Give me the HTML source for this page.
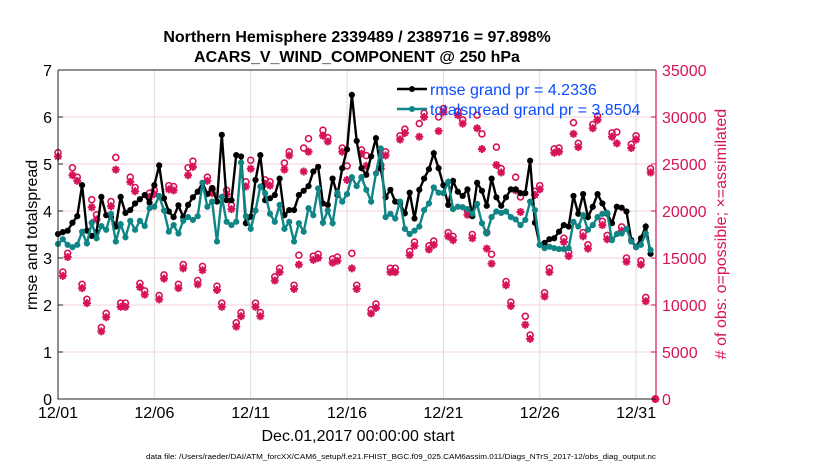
<!DOCTYPE html>
<html><head><meta charset="utf-8"><style>
html,body{margin:0;padding:0;background:#fff;}
svg{display:block;font-family:"Liberation Sans",sans-serif;}
</style></head><body>
<svg id="chart" width="830" height="470" viewBox="0 0 830 470">
<g id="grid"></g>
<g id="obs"></g>
<g id="lines"></g>
<g id="axes"></g>
<text x="357" y="42" text-anchor="middle" font-size="16" font-weight="bold">Northern Hemisphere 2339489 / 2389716 = 97.898%</text>
<text x="357" y="62" text-anchor="middle" font-size="16" font-weight="bold">ACARS_V_WIND_COMPONENT @ 250 hPa</text>
<text transform="translate(37,235) rotate(-90)" text-anchor="middle" font-size="16">rmse and totalspread</text>
<text transform="translate(726,234) rotate(-90)" text-anchor="middle" font-size="16" fill="#d6135a"># of obs: o=possible; ×=assimilated</text>
<text x="358" y="441" text-anchor="middle" font-size="16">Dec.01,2017 00:00:00 start</text>
<text x="401" y="459" text-anchor="middle" font-size="7" textLength="510" lengthAdjust="spacingAndGlyphs">data file: /Users/raeder/DAI/ATM_forcXX/CAM6_setup/f.e21.FHIST_BGC.f09_025.CAM6assim.011/Diags_NTrS_2017-12/obs_diag_output.nc</text>
<g>
<line x1="397" y1="89" x2="427" y2="89" stroke="#000" stroke-width="2.5"/>
<circle cx="412" cy="89" r="3" fill="#000"/>
<text x="430" y="95" font-size="16" fill="#0b4dff">rmse grand pr = 4.2336</text>
<line x1="397" y1="109" x2="427" y2="109" stroke="#0f8585" stroke-width="2.5"/>
<circle cx="412" cy="109" r="3" fill="#0f8585"/>
<text x="430" y="115" font-size="16" fill="#0b4dff">totalspread grand pr = 3.8504</text>
</g>
</svg>
<script>
const rmse = [3.51,3.55,3.58,3.75,3.89,4.55,3.58,3.47,3.55,4.30,3.91,3.87,3.67,4.30,3.96,4.02,4.16,4.25,4.34,4.18,4.55,4.97,4.27,3.99,3.87,4.12,3.87,4.13,4.29,4.41,4.60,4.36,4.49,4.20,5.62,4.23,4.23,5.19,5.16,3.74,3.88,4.66,5.19,4.23,4.27,4.34,4.69,3.91,4.02,4.02,4.34,4.43,4.53,4.84,4.94,4.16,4.13,4.69,4.34,4.91,5.31,6.47,5.49,4.91,4.77,5.16,5.55,4.91,4.29,4.45,4.20,4.16,3.95,4.39,3.84,4.45,4.69,4.89,5.23,4.91,4.55,4.13,4.64,4.41,4.32,4.46,3.89,4.60,4.43,4.11,4.69,4.29,4.11,4.29,4.46,4.46,4.38,4.38,5.07,3.75,3.28,3.32,3.40,3.42,3.56,3.70,3.67,4.32,3.94,4.36,3.87,4.09,4.36,4.16,3.94,3.74,4.09,4.07,3.99,3.38,3.23,3.42,3.67,3.09];
const spread = [3.30,3.40,3.28,3.23,3.28,3.56,3.31,3.75,3.42,3.68,3.60,3.94,3.35,3.72,3.44,3.79,3.60,3.79,3.68,4.06,4.09,4.32,4.01,3.56,3.70,3.52,3.79,3.87,3.81,3.89,4.60,4.09,4.20,3.35,4.30,3.77,3.70,3.77,5.03,3.89,3.62,4.01,4.52,4.38,3.94,3.77,4.13,3.62,3.77,3.35,3.74,3.56,4.06,3.91,4.48,3.75,4.01,3.74,4.39,4.20,4.36,4.72,4.53,4.72,4.45,4.20,4.80,5.33,3.87,3.94,3.84,4.20,3.62,3.51,3.58,3.67,4.02,4.16,4.50,4.39,4.38,4.62,4.04,4.09,4.08,4.04,3.94,4.15,3.74,3.52,3.87,3.99,3.96,3.99,3.87,3.82,3.70,3.81,4.20,4.02,3.28,3.21,3.24,3.21,3.19,3.19,3.21,3.77,3.67,3.91,3.60,3.70,3.87,3.94,3.96,3.38,3.51,3.52,3.62,3.35,3.23,3.28,3.52,3.17];
const assimilated = [25800,13100,15100,23800,23200,11800,10200,20400,19100,7200,8700,20500,24400,9800,9800,23100,22100,11900,11100,21500,21800,10600,12800,22300,22200,11800,13900,23800,24700,12200,13700,23200,21900,11600,9800,21800,20200,7700,8800,22600,24500,9800,8800,22900,22700,12600,13500,24400,25900,11700,14300,24200,26300,14800,15000,28000,27400,14500,14700,26300,23300,13900,11700,26100,24800,9100,9700,24500,25900,13500,13500,27600,28300,15300,16300,27900,30000,15900,16400,28500,30500,17300,16900,30200,29300,19600,17100,28800,26600,16000,14400,24900,24100,12100,9900,22200,19900,7900,6400,21700,22300,10900,13500,26200,26300,16700,15200,28200,26800,17300,16000,28800,29700,18500,17000,27900,27200,17900,14600,26700,27600,14300,10400,24100,0];
const possible = [26200,13500,15500,24600,23600,12200,10600,21200,19600,7600,9100,21000,25700,10200,10200,23600,22500,12300,11500,21900,22200,11000,13200,22700,22600,12200,14300,24600,25300,12600,14100,23600,22300,12000,10200,22200,20600,8100,9200,23100,25400,10200,9200,23300,23100,13000,13900,25100,26300,12100,15300,26700,27700,15200,15400,28600,27800,14900,15100,26700,24800,15500,12100,26500,25900,9500,10100,24900,26300,13900,13900,28000,28700,15700,16700,29300,30400,16300,16800,30000,30900,17700,17300,30600,29700,20000,17500,30200,28200,17700,15400,26800,24500,12500,10300,23600,21500,8800,6800,22100,22700,11300,13900,26600,26700,17100,15600,29400,27200,17700,16400,29200,30100,18900,17400,28300,28400,18300,15000,27100,28000,14700,10800,24500,0];
const yTicks = [0,1,2,3,4,5,6,7];
const y2Ticks = [0,5000,10000,15000,20000,25000,30000,35000];
const xTickLabels = ["12/01","12/06","12/11","12/16","12/21","12/26","12/31"];
const xTickDays = [0,5,10,15,20,25,30];
const stepDays = 0.25;
</script>
<script>
const NS="http://www.w3.org/2000/svg";
const L=58,R=656,T=70,B=399;
const dayPx=19.27;
const xS=d=>L+d*dayPx;
const yS=v=>B-(v/7)*(B-T);
const y2S=v=>B-(v/35000)*(B-T);
function mk(tag,attrs,parent){const e=document.createElementNS(NS,tag);for(const k in attrs)e.setAttribute(k,attrs[k]);parent.appendChild(e);return e;}
const grid=document.getElementById('grid'),axes=document.getElementById('axes'),obs=document.getElementById('obs'),lines=document.getElementById('lines');
yTicks.forEach((t,i)=>{
  if(t>0&&t<7){const g=mk('line',{x1:L,x2:R,y1:yS(t),y2:yS(t),stroke:'#f3d3df','stroke-width':1},grid);
  
  }
  const tk=mk('line',{x1:L,x2:L+5,y1:yS(t),y2:yS(t),stroke:'#222'},axes);
  
  
  const lb=mk('text',{x:L-6,y:yS(t)+6,'text-anchor':'end','font-size':16},axes);lb.textContent=t;
  
  
});
y2Ticks.forEach(t=>{
  const tk=mk('line',{x1:R-5,x2:R,y1:y2S(t),y2:y2S(t),stroke:'#d6135a'},axes);
  
  
  const lb=mk('text',{x:R+6,y:y2S(t)+6,'font-size':16,fill:'#d6135a'},axes);lb.textContent=t;
  
  
});
xTickDays.forEach((d,i)=>{
  const g=mk('line',{x1:xS(d),x2:xS(d),y1:T,y2:B,stroke:'#dcdcdc'},grid);
  
  
  const lb=mk('text',{x:xS(d),y:B+19,'text-anchor':'middle','font-size':16},axes);lb.textContent=xTickLabels[i];
  
  
});
const fr=mk('path',{d:`M${L},${T}H${R}M${L},${T}V${B}H${R}`,stroke:'#222',fill:'none','stroke-width':1},axes);


const ra=mk('line',{x1:R,x2:R,y1:T,y2:B,stroke:'#d6135a','stroke-width':1.2},axes);


const pink='#d6135a';
possible.forEach((v,i)=>{
  const c=mk('circle',{cx:xS(i*stepDays),cy:y2S(v),r:3,fill:'none',stroke:pink,'stroke-width':1.6},obs);
  
  
});
assimilated.forEach((v,i)=>{
  const x=xS(i*stepDays),y=y2S(v),r=4;
  const p=mk('path',{d:`M${x-r},${y}H${x+r}M${x},${y-r}V${y+r}M${x-2.8},${y-2.8}L${x+2.8},${y+2.8}M${x-2.8},${y+2.8}L${x+2.8},${y-2.8}`,stroke:pink,'stroke-width':2},obs);
  
  
});
function series(arr,color,name){
  const pts=arr.map((v,i)=>`${xS(i*stepDays)},${yS(v)}`).join(' ');
  const pl=mk('polyline',{points:pts,fill:'none',stroke:color,'stroke-width':2.4},lines);
  
  
  arr.forEach((v,i)=>{
    const c=mk('circle',{cx:xS(i*stepDays),cy:yS(v),r:3.1,fill:color},lines);
    
    
  });
}
series(rmse,'#000','rmse');
series(spread,'#0f8585','totalspread');
</script>
</body></html>
